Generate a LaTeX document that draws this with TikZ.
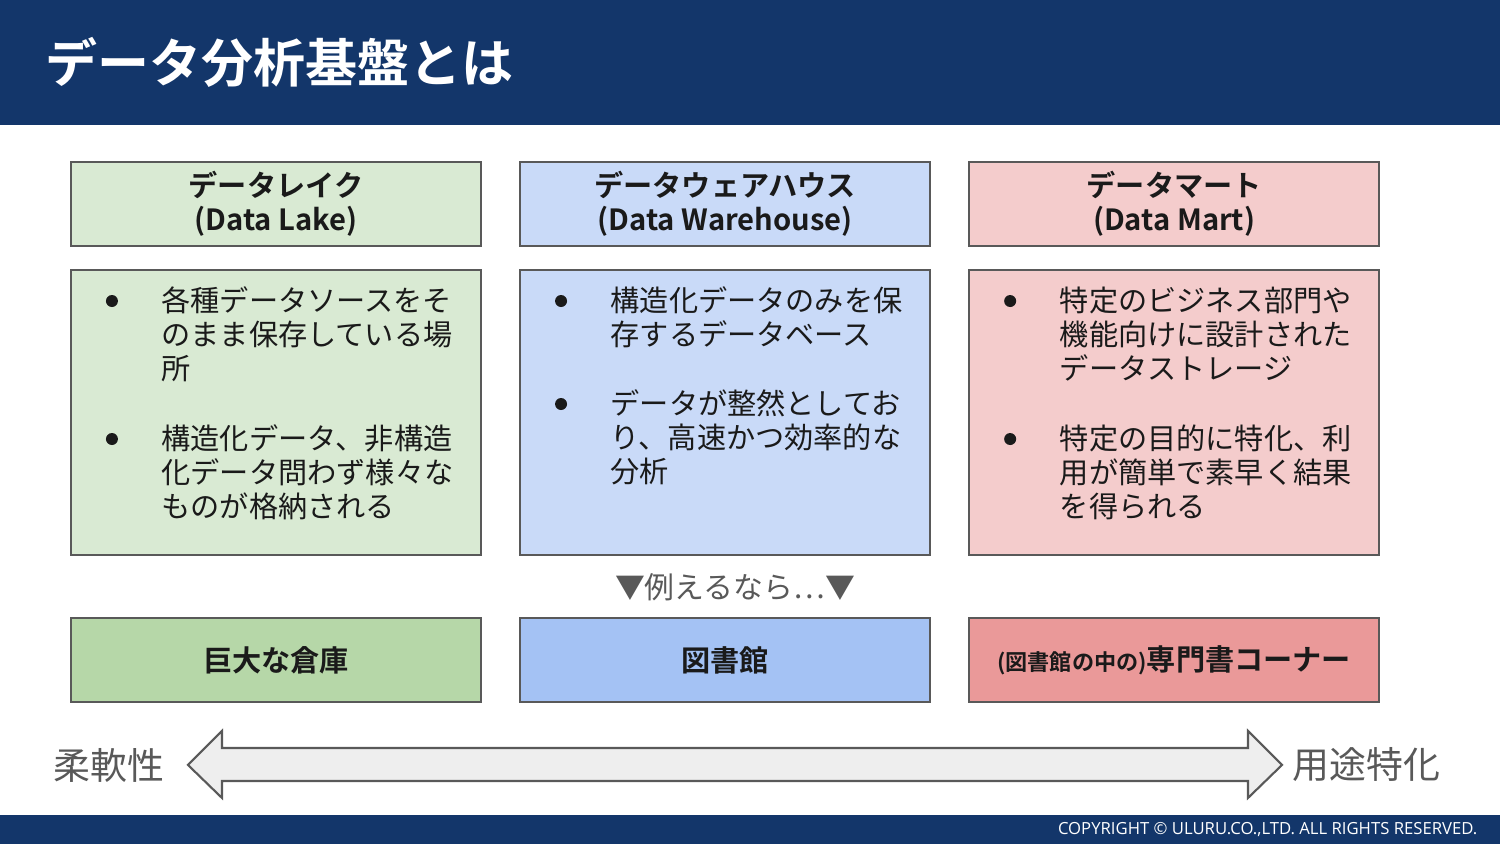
\documentclass[tikz,border=0pt]{standalone}
\usepackage{fontspec}
\setmainfont{Noto Sans CJK JP}[BoldFont={Noto Sans CJK JP Bold}]
\newfontfamily\copyfont{Open Sans}
\usetikzlibrary{positioning, calc}
\definecolor{navy}{HTML}{13366A}
\definecolor{lakebg}{HTML}{D9EAD3}
\definecolor{whbg}{HTML}{C9DAF8}
\definecolor{martbg}{HTML}{F4CCCC}
\definecolor{lakedk}{HTML}{B6D7A8}
\definecolor{whdk}{HTML}{A4C2F4}
\definecolor{martdk}{HTML}{EA9999}
\definecolor{edge}{HTML}{595959}
\definecolor{ink}{HTML}{1A1A1A}
\definecolor{hint}{HTML}{595959}
\definecolor{shaft}{HTML}{EEEEEE}

\begin{document}
\begin{tikzpicture}[
  every node/.style={inner sep=0pt, text=ink},
  box/.style={draw=edge, line width=0.6pt, minimum width=4.1cm, align=center},
  headbox/.style={box, minimum height=0.84cm, font=\fontsize{8.3}{9.67}\selectfont\bfseries},
  bodybox/.style={box, minimum height=2.85cm},
  para/.style={anchor=north west, align=left, font=\fontsize{8.3}{9.67}\selectfont},
  dot/.style={circle, fill=ink, minimum size=0.12cm},
]

% Frame
\useasboundingbox (0,0) rectangle (15,8.44);
\fill[white] (0,0) rectangle (15,8.44);

% Header bar
\fill[navy] (0,7.19) rectangle (15,8.44);
\node[font=\fontsize{14.8}{18}\selectfont\bfseries, text=white, anchor=west] (title) at (0.45,7.82) {データ分析基盤とは};

% Footer bar
\fill[navy] (0,0) rectangle (15,0.29);
\node[font=\copyfont\fontsize{4.75}{5}\selectfont, text=white, anchor=east] (copy) at (14.78,0.145)
  {COPYRIGHT © ULURU.CO.,LTD. ALL RIGHTS RESERVED.};

% Column heads
\node[headbox, fill=lakebg] (lakehead) at (2.76,6.40) {データレイク\\(Data Lake)};
\node[headbox, fill=whbg, right=0.37cm of lakehead] (whhead) {データウェアハウス\\(Data Warehouse)};
\node[headbox, fill=martbg, right=0.37cm of whhead] (marthead) {データマート\\(Data Mart)};

% Column bodies
\node[bodybox, fill=lakebg, below=0.22cm of lakehead] (lakebody) {};
\node[bodybox, fill=whbg, below=0.22cm of whhead] (whbody) {};
\node[bodybox, fill=martbg, below=0.22cm of marthead] (martbody) {};

% Data Lake points
\node[dot] (lakedot1) at ($(lakebody.north west)+(0.42,-0.32)$) {};
\node[para] (laketext1) at ($(lakebody.north west)+(0.91,-0.17)$)
  {各種データソースをそ\\のまま保存している場\\所};
\node[dot] (lakedot2) at ($(lakebody.north west)+(0.42,-1.70)$) {};
\node[para] (laketext2) at ($(lakebody.north west)+(0.91,-1.55)$)
  {構造化データ、非構造\\化データ問わず様々な\\ものが格納される};

% Data Warehouse points
\node[dot] (whdot1) at ($(whbody.north west)+(0.42,-0.32)$) {};
\node[para] (whtext1) at ($(whbody.north west)+(0.91,-0.17)$)
  {構造化データのみを保\\存するデータベース};
\node[dot] (whdot2) at ($(whbody.north west)+(0.42,-1.35)$) {};
\node[para] (whtext2) at ($(whbody.north west)+(0.91,-1.20)$)
  {データが整然としてお\\り、高速かつ効率的な\\分析};

% Data Mart points
\node[dot] (martdot1) at ($(martbody.north west)+(0.42,-0.32)$) {};
\node[para] (marttext1) at ($(martbody.north west)+(0.91,-0.17)$)
  {特定のビジネス部門や\\機能向けに設計された\\データストレージ};
\node[dot] (martdot2) at ($(martbody.north west)+(0.42,-1.70)$) {};
\node[para] (marttext2) at ($(martbody.north west)+(0.91,-1.55)$)
  {特定の目的に特化、利\\用が簡単で素早く結果\\を得られる};

% Analogy
\node[font=\fontsize{8.5}{10}\selectfont, text=hint] (analogy) at (7.35,2.57) {▼例えるなら…▼};
\node[headbox, fill=lakedk, below=0.61cm of lakebody] (warehouse) {巨大な倉庫};
\node[headbox, fill=whdk, below=0.61cm of whbody] (library) {図書館};
\node[headbox, fill=martdk, below=0.61cm of martbody] (corner)
  {{\fontsize{6.3}{8}\selectfont(図書館の中の)}専門書コーナー};

% Scale arrow
\draw[draw=edge, fill=shaft, line width=0.6pt, line join=miter]
  (1.88,0.79) -- (2.22,1.13) -- (2.22,0.96) -- (12.48,0.96) -- (12.48,1.13) -- (12.82,0.79)
  -- (12.48,0.46) -- (12.48,0.63) -- (2.22,0.63) -- (2.22,0.46) -- cycle;
\node[font=\fontsize{10.5}{12}\selectfont, text=hint, anchor=east] (flex) at (1.65,0.79) {柔軟性};
\node[font=\fontsize{10.5}{12}\selectfont, text=hint, anchor=west] (special) at (12.92,0.79) {用途特化};

\end{tikzpicture}
\end{document}
